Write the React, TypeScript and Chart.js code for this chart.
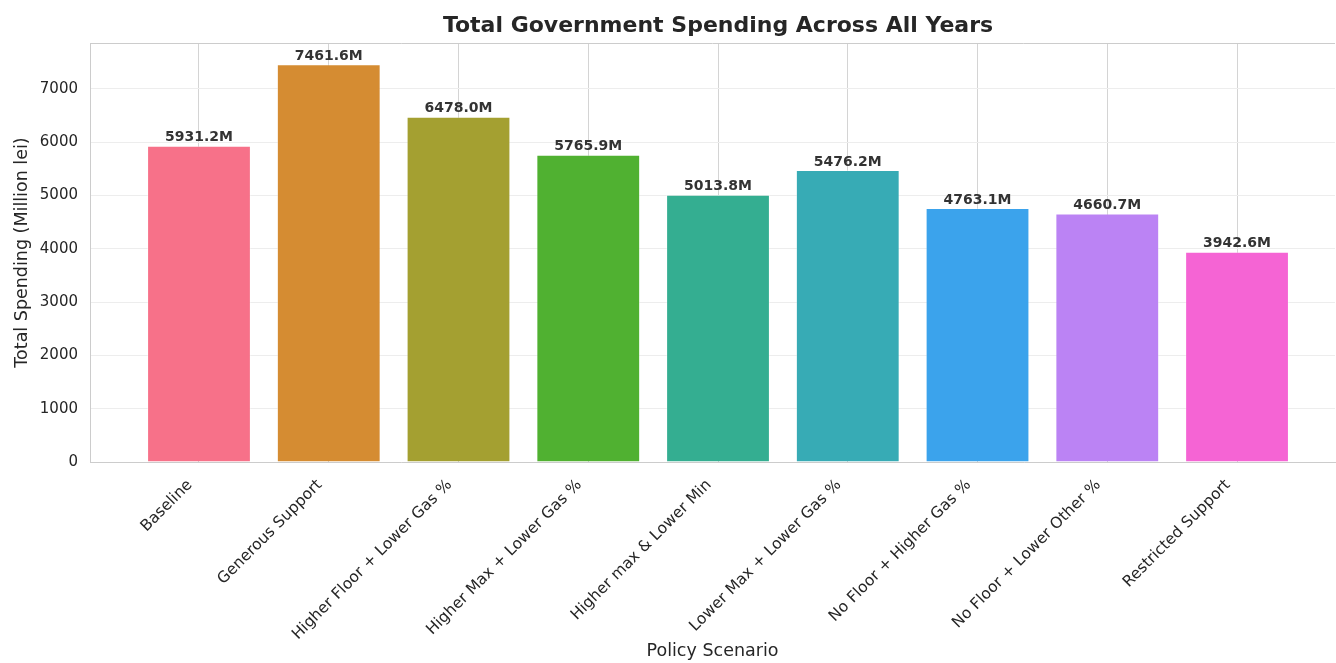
import React, { useEffect, useRef } from "react";
import { Chart, registerables } from "chart.js";

Chart.register(...registerables);

const categories: string[] = [
  "Baseline",
  "Generous Support",
  "Higher Floor + Lower Gas %",
  "Higher Max + Lower Gas %",
  "Higher max & Lower Min",
  "Lower Max + Lower Gas %",
  "No Floor + Higher Gas %",
  "No Floor + Lower Other %",
  "Restricted Support",
];

const spending: number[] = [5931.2, 7461.6, 6478.0, 5765.9, 5013.8, 5476.2, 4763.1, 4660.7, 3942.6];

const barColors: string[] = [
  "#f77189",
  "#d58c32",
  "#a4a031",
  "#50b131",
  "#34ae91",
  "#37abb5",
  "#3ba3ec",
  "#bb83f4",
  "#f564d4",
];

const yTicks: number[] = [0, 1000, 2000, 3000, 4000, 5000, 6000, 7000];

const FONT = "'DejaVu Sans', sans-serif";
const TEXT = "#262626";

const overlayPlugin = {
  id: "overlay",
  afterDatasetsDraw(chart: any) {
    const { ctx } = chart;
    const meta = chart.getDatasetMeta(0);
    ctx.save();
    ctx.font = `bold 14px ${FONT}`;
    ctx.fillStyle = "#333333";
    ctx.textAlign = "center";
    ctx.textBaseline = "bottom";
    meta.data.forEach((el: any, i: number) => {
      ctx.fillText(`${spending[i].toFixed(1)}M`, el.x, el.y - 1);
    });
    ctx.restore();
  },
  afterDraw(chart: any) {
    const { ctx, chartArea } = chart;
    ctx.save();
    ctx.strokeStyle = "#cccccc";
    ctx.lineWidth = 1;
    ctx.beginPath();
    ctx.moveTo(chartArea.left, chartArea.top + 0.5);
    ctx.lineTo(chartArea.right, chartArea.top + 0.5);
    ctx.stroke();
    ctx.font = `bold 22px ${FONT}`;
    ctx.fillStyle = TEXT;
    ctx.textAlign = "center";
    ctx.textBaseline = "middle";
    ctx.fillText("Total Government Spending Across All Years", 718, 26);
    ctx.restore();
  },
};

export default function App() {
  const ref = useRef<HTMLCanvasElement | null>(null);

  useEffect(() => {
    if (!ref.current) return;
    const chart = new Chart(ref.current, {
      type: "bar",
      data: {
        datasets: [
          {
            data: spending.map((v, i) => ({ x: i, y: v })),
            backgroundColor: barColors,
            borderColor: "rgba(255,255,255,0.35)",
            borderWidth: 1,
            barPercentage: 0.8,
            categoryPercentage: 1,
          },
        ],
      },
      options: {
        responsive: false,
        animation: false,
        layout: { padding: { top: 43, right: 1, bottom: 0, left: 0 } },
        plugins: {
          legend: { display: false },
          tooltip: { enabled: false },
          title: { display: false },
        },
        scales: {
          x: {
            type: "linear",
            offset: false,
            min: -0.84,
            max: 8.755,
            afterBuildTicks(scale: any) {
              scale.ticks = categories.map((_, i) => ({ value: i }));
            },
            afterFit(scale: any) {
              scale.height = 201;
            },
            ticks: {
              autoSkip: false,
              minRotation: 45,
              maxRotation: 45,
              padding: 14,
              labelOffset: -9,
              color: TEXT,
              font: { family: FONT, size: 15.5 },
              callback: (v: any) => categories[v as number] ?? "",
            },
            grid: { color: "#d4d4d4", drawTicks: false, lineWidth: 1, offset: false },
            border: { display: true, color: "#cccccc" },
            title: {
              display: true,
              text: "Policy Scenario",
              color: TEXT,
              font: { family: FONT, size: 17.5 },
              padding: { top: 0, bottom: 1 },
            },
          },
          y: {
            min: 0,
            max: 7860,
            afterBuildTicks(scale: any) {
              scale.ticks = yTicks.map((v) => ({ value: v }));
            },
            afterFit(scale: any) {
              scale.width = 90;
            },
            ticks: {
              padding: 12,
              color: TEXT,
              font: { family: FONT, size: 15 },
              callback: (v: any) => String(v),
            },
            grid: { color: "#ededed", drawTicks: false, lineWidth: 1 },
            border: { display: true, color: "#cccccc" },
            title: {
              display: true,
              text: "Total Spending (Million lei)",
              color: TEXT,
              font: { family: FONT, size: 17.5 },
              padding: { top: 12, bottom: 0 },
            },
          },
        },
      },
      plugins: [overlayPlugin],
    });
    return () => chart.destroy();
  }, []);

  return (
    <div style={{ position: "absolute", left: 0, top: 0, width: 1336, height: 663, background: "#ffffff" }}>
      <canvas ref={ref} width={1336} height={663} style={{ display: "block" }} />
    </div>
  );
}
